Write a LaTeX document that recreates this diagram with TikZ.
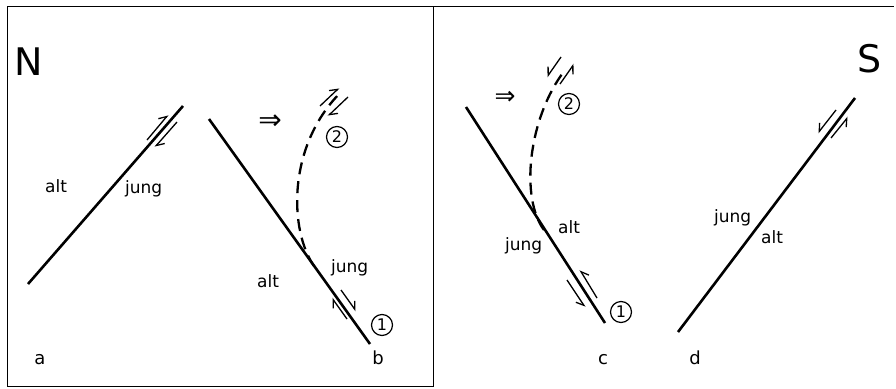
\documentclass[tikz,border=0pt]{standalone}
\usepackage{fontspec}
\setmainfont{DejaVu Sans}
\usetikzlibrary{arrows.meta}
\begin{document}
\begin{tikzpicture}[x=1pt,y=-1pt,
  fault/.style={line width=2.6pt},
  future/.style={line width=2.3pt, dash pattern=on 12pt off 7pt},
  hl/.style={line width=1.3pt, -{Straight Barb[left,length=7pt,width=10pt]}},
  hr/.style={line width=1.3pt, -{Straight Barb[right,length=7pt,width=10pt]}},
  lbl/.style={font=\fontsize{17}{19}\selectfont, inner sep=0pt, anchor=base west},
  plbl/.style={font=\fontsize{18}{20}\selectfont, inner sep=0pt, anchor=base},
  big/.style={font=\fontsize{38}{40}\selectfont, inner sep=0pt, anchor=base west},
  num/.style={circle, draw, line width=1.2pt, minimum size=21pt, inner sep=0pt,
    font=\fontsize{16}{17}\selectfont},
  impl/.style={font=\fontsize{28}{30}\selectfont, inner sep=0pt}]
\useasboundingbox (0,0) rectangle (896,388);
% frame
\draw[line width=0.9pt] (7,6) rectangle (433,386);
\draw[line width=0.9pt] (433,6) -- (894,6);
% ---------- panel a
\coordinate (a1) at (28,284);
\coordinate (a2) at (183,106);
\draw[fault] (a1) -- (a2);
\coordinate (au1) at (147,140); \coordinate (au2) at (168,115);
\coordinate (ad1) at (177,122); \coordinate (ad2) at (155,147);
\draw[hl] (au1) -- (au2);
\draw[hl] (ad1) -- (ad2);
\node[lbl] (aalt) at (45,192) {alt};
\node[lbl] (ajung) at (125,193) {jung};
\node[plbl] (la) at (40,364) {a};
\node[big] (N) at (14,75) {N};
% ---------- panel b
\coordinate (b1) at (209,119);
\coordinate (b2) at (370,344);
\draw[fault] (b1) -- (b2);
\coordinate (bt) at (314,266);
\coordinate (be) at (340,93);
\draw[future] (bt) .. controls (290,232) and (286,148) .. (be);
\coordinate (bu1) at (320,106); \coordinate (bu2) at (339,88);
\coordinate (bd1) at (348,97); \coordinate (bd2) at (328,116);
\draw[hl] (bu1) -- (bu2);
\draw[hl] (bd1) -- (bd2);
\coordinate (bs1) at (341,290); \coordinate (bs2) at (356,311);
\coordinate (bs3) at (347,319); \coordinate (bs4) at (332,298);
\draw[hl] (bs1) -- (bs2);
\draw[hl] (bs3) -- (bs4);
\node[lbl] (bjung) at (331,272) {jung};
\node[lbl] (balt) at (257,287) {alt};
\node[plbl] (lb) at (378,364) {b};
\node[num] (bone) at (382,325) {1};
\node[num] (btwo) at (337,137) {2};
\node[impl] (bimp) at (270,122) {⇒};
% ---------- panel c
\coordinate (c1) at (466,107);
\coordinate (c2) at (605,323);
\draw[fault] (c1) -- (c2);
\coordinate (ct) at (544,230);
\coordinate (ce) at (565,70);
\draw[future] (ct) .. controls (520,198) and (528,118) .. (ce);
\coordinate (cd1) at (561,57); \coordinate (cd2) at (547,77);
\coordinate (cu1) at (560,84); \coordinate (cu2) at (574,64);
\draw[hr] (cd1) -- (cd2);
\draw[hr] (cu1) -- (cu2);
\coordinate (cs1) at (567,280); \coordinate (cs2) at (585,307);
\coordinate (cs3) at (597,298); \coordinate (cs4) at (580,270);
\draw[hr] (cs1) -- (cs2);
\draw[hr] (cs3) -- (cs4);
\node[lbl] (calt) at (558,233) {alt};
\node[lbl] (cjung) at (505,250) {jung};
\node[plbl] (lc) at (603,364) {c};
\node[num] (cone) at (621,312) {1};
\node[num] (ctwo) at (569,104) {2};
\node[impl, font=\fontsize{25}{27}\selectfont] (cimp) at (505,98) {⇒};
% ---------- panel d
\coordinate (d1) at (678,332);
\coordinate (d2) at (855,98);
\draw[fault] (d1) -- (d2);
\coordinate (dd1) at (836,110); \coordinate (dd2) at (818,133);
\coordinate (du1) at (831,138); \coordinate (du2) at (848,117);
\draw[hr] (dd1) -- (dd2);
\draw[hr] (du1) -- (du2);
\node[lbl] (djung) at (714,222) {jung};
\node[lbl] (dalt) at (761,243) {alt};
\node[plbl] (ld) at (695,364) {d};
\node[big] (S) at (857,72) {S};
\end{tikzpicture}
\end{document}
